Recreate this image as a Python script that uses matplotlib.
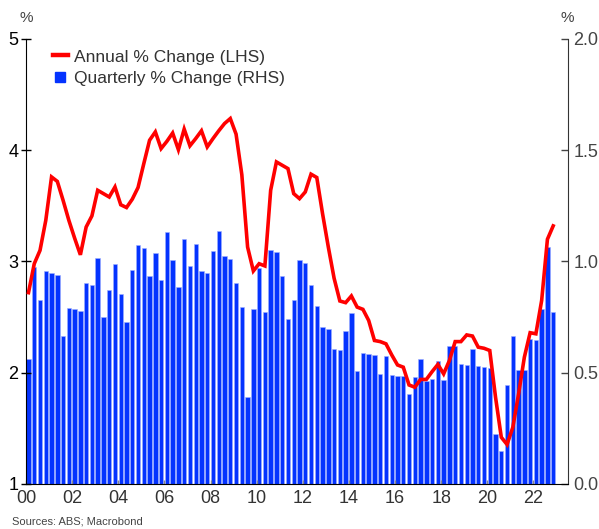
import matplotlib
matplotlib.use("Agg")
import matplotlib.pyplot as plt
from matplotlib.lines import Line2D
import numpy as np

plt.rcParams['font.family'] = ['Liberation Sans', 'DejaVu Sans']

start_year = 2000
quarterly_change = [
    0.56, 0.976, 0.826, 0.957, 0.948, 0.939, 0.663, 0.791, 0.785, 0.779,
    0.902, 0.894, 1.014, 0.752, 0.872, 0.987, 0.855, 0.728, 0.961, 1.072,
    1.060, 0.933, 1.039, 0.915, 1.132, 1.006, 0.886, 1.099, 0.979, 1.077,
    0.958, 0.949, 1.045, 1.137, 1.023, 1.011, 0.902, 0.794, 0.392, 0.785,
    0.973, 0.771, 1.051, 1.041, 0.936, 0.741, 0.828, 1.005, 0.994, 0.895,
    0.800, 0.704, 0.698, 0.606, 0.603, 0.686, 0.767, 0.508, 0.588, 0.584,
    0.581, 0.496, 0.575, 0.488, 0.487, 0.484, 0.403, 0.479, 0.560, 0.464,
    0.473, 0.551, 0.469, 0.621, 0.619, 0.538, 0.535, 0.608, 0.529, 0.526,
    0.523, 0.223, 0.148, 0.445, 0.665, 0.512, 0.511, 0.653, 0.648, 0.788,
    1.065, 0.773,
]
annual_change = [
    2.72, 2.98, 3.10, 3.37, 3.76, 3.72, 3.55, 3.37, 3.21, 3.06,
    3.31, 3.41, 3.64, 3.61, 3.58, 3.67, 3.51, 3.485, 3.56, 3.665,
    3.88, 4.09, 4.165, 4.015, 4.08, 4.155, 4.005, 4.19, 4.04, 4.105,
    4.175, 4.03, 4.105, 4.175, 4.24, 4.285, 4.145, 3.78, 3.13, 2.915,
    2.98, 2.96, 3.64, 3.895, 3.865, 3.835, 3.61, 3.565, 3.625, 3.785,
    3.755, 3.43, 3.13, 2.85, 2.645, 2.63, 2.69, 2.59, 2.57, 2.47,
    2.29, 2.28, 2.26, 2.16, 2.07, 2.05, 1.89, 1.87, 1.94, 1.94,
    2.01, 2.075, 1.99, 2.11, 2.28, 2.28, 2.34, 2.33, 2.23, 2.22,
    2.20, 1.78, 1.42, 1.355, 1.51, 1.81, 2.14, 2.36, 2.35, 2.65,
    3.20, 3.32,
]
x_ticks = list(range(2000, 2023, 2))
x_ticklabels = [f"{y % 100:02d}" for y in x_ticks]
left_ticks = [1, 2, 3, 4, 5]
right_ticks = [0.0, 0.5, 1.0, 1.5, 2.0]
line_label = 'Annual % Change (LHS)'
bar_label = 'Quarterly % Change (RHS)'

n = len(quarterly_change)
xpos = start_year + 0.108 + 0.25 * np.arange(n)

fig = plt.figure(figsize=(5.99, 5.29), dpi=100)
ax = fig.add_axes([26 / 599, 1 - 484 / 529, (568 - 26) / 599, (484 - 39) / 529])
ax2 = ax.twinx()

bar_color = '#0433FF'
line_color = '#FF0000'
ax2.bar(xpos, quarterly_change, width=0.19, color=bar_color, edgecolor='#9fb0ff',
        linewidth=0.4, zorder=2)
ax.plot(xpos, annual_change, color=line_color, lw=2.6, solid_joinstyle='miter', zorder=3)

ax.set_zorder(ax2.get_zorder() + 1)
ax.patch.set_visible(False)

ax.set_xlim(2000, 2023.5)
ax.set_ylim(1, 5)
ax2.set_ylim(0, 2)

ax.set_xticks(x_ticks)
ax.set_xticklabels(x_ticklabels, fontsize=13, color='#333333')
ax.set_yticks(left_ticks)
ax.set_yticklabels([str(v) for v in left_ticks], fontsize=13, color='black')
ax2.set_yticks(right_ticks)
ax2.set_yticklabels([f"{v:.1f}" for v in right_ticks], fontsize=13, color='#444444')

for a in (ax, ax2):
    a.spines['top'].set_visible(False)
ax.spines['right'].set_visible(False)
ax2.spines['left'].set_visible(False)
ax2.spines['bottom'].set_visible(False)
ax.spines['left'].set_color('black')
ax.spines['bottom'].set_color('black')
ax2.spines['right'].set_color('#333333')

ax.tick_params(axis='y', direction='inout', length=7, width=1, pad=2)
ax.tick_params(axis='x', direction='in', length=3, width=1, color='#888888', pad=4)
ax2.tick_params(axis='y', direction='in', length=5, width=1, color='#444444', pad=4)

fig.text(26 / 599, 1 - 18 / 529, '%', ha='center', va='center', fontsize=11, color='#444444')
fig.text(567 / 599, 1 - 18 / 529, '%', ha='center', va='center', fontsize=11, color='#444444')
fig.text(12 / 599, 1 - 522 / 529, 'Sources: ABS; Macrobond', ha='left', va='center',
         fontsize=8, color='#444444')

handles = [
    Line2D([], [], color=line_color, lw=3.2),
    Line2D([], [], color=bar_color, marker='s', ls='', markersize=7.5),
]
leg = ax.legend(handles, [line_label, bar_label], loc='upper left',
                bbox_to_anchor=(0.03, 1.0),
                frameon=False, fontsize=12.5, handlelength=0.9, handletextpad=0.3,
                labelspacing=0.35, borderaxespad=0.2)
for t in leg.get_texts():
    t.set_color('#333333')

fig.savefig('out.png', dpi=100)
